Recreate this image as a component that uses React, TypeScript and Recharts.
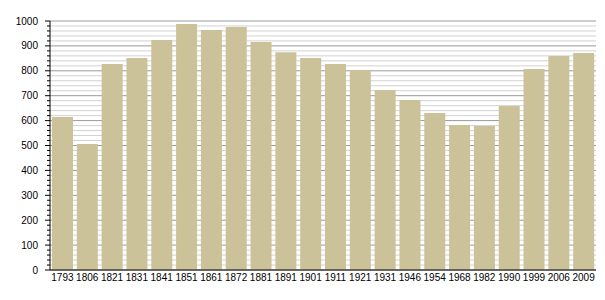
import { BarChart, Bar, XAxis, YAxis, CartesianGrid } from 'recharts';

const YEARS = [
  '1793', '1806', '1821', '1831', '1841', '1851', '1861', '1872', '1881', '1891', '1901',
  '1911', '1921', '1931', '1946', '1954', '1968', '1982', '1990', '1999', '2006', '2009',
];
const POPULATION = [
  614, 506, 827, 851, 924, 988, 964, 976, 916, 875, 851,
  827, 803, 723, 683, 631, 582, 578, 659, 807, 859, 871,
];
const MAJOR_TICKS = [0, 100, 200, 300, 400, 500, 600, 700, 800, 900, 1000];
const MINOR_TICKS = [
  0, 20, 40, 60, 80, 100, 120, 140, 160, 180, 200, 220, 240, 260, 280, 300, 320, 340, 360, 380,
  400, 420, 440, 460, 480, 500, 520, 540, 560, 580, 600, 620, 640, 660, 680, 700, 720, 740, 760,
  780, 800, 820, 840, 860, 880, 900, 920, 940, 960, 980, 1000,
];

const BAR_COLOR = '#cbc29a';
const MAJOR_GRID = '#9a9a9a';
const MINOR_GRID = '#d2d2d2';
const FONT = '"Liberation Sans", Arial, sans-serif';

const data = YEARS.map((year, i) => ({ year, value: POPULATION[i] }));

// labels only on the hundreds, short tick marks on the rest
function YTick(props: any) {
  const { x, y, payload } = props;
  const major = MAJOR_TICKS.includes(payload.value);
  return (
    <g>
      <line x1={x - (major ? 5 : 3)} x2={x} y1={y} y2={y} stroke="#000" />
      {major && (
        <text x={x - 12} y={y} dy="0.35em" textAnchor="end" fontSize={10} fill="#000" fontFamily={FONT}>
          {payload.value}
        </text>
      )}
    </g>
  );
}

// grid lines follow the minor ticks; every fifth one is a hundred
function GridLine(p: any) {
  const major = MAJOR_TICKS.includes(MINOR_TICKS[p.index]);
  return (
    <line
      key={p.key ?? p.index}
      x1={p.x1}
      x2={p.x2}
      y1={p.y1}
      y2={p.y2}
      stroke={major ? MAJOR_GRID : MINOR_GRID}
      strokeWidth={1}
    />
  );
}

export default function App() {
  return (
    <div style={{ position: 'absolute', left: 0, top: 0, width: 605, height: 300, background: '#fff' }}>
      <BarChart
        width={605}
        height={300}
        data={data}
        margin={{ top: 21, right: 9, bottom: 0, left: 0 }}
        barCategoryGap={2}
      >
        <CartesianGrid vertical={false} horizontal={GridLine} />
        <XAxis
          dataKey="year"
          height={30}
          interval={0}
          tickLine={false}
          tickSize={0}
          tickMargin={4}
          axisLine={{ stroke: '#000' }}
          tick={{ fontSize: 10, fill: '#000', fontFamily: FONT }}
        />
        <YAxis
          width={50}
          domain={[0, 1000]}
          ticks={MINOR_TICKS}
          interval={0}
          tickSize={0}
          tickMargin={0}
          tickLine={false}
          axisLine={{ stroke: '#000' }}
          tick={<YTick />}
        />
        <Bar dataKey="value" fill={BAR_COLOR} isAnimationActive={false} />
      </BarChart>
    </div>
  );
}
